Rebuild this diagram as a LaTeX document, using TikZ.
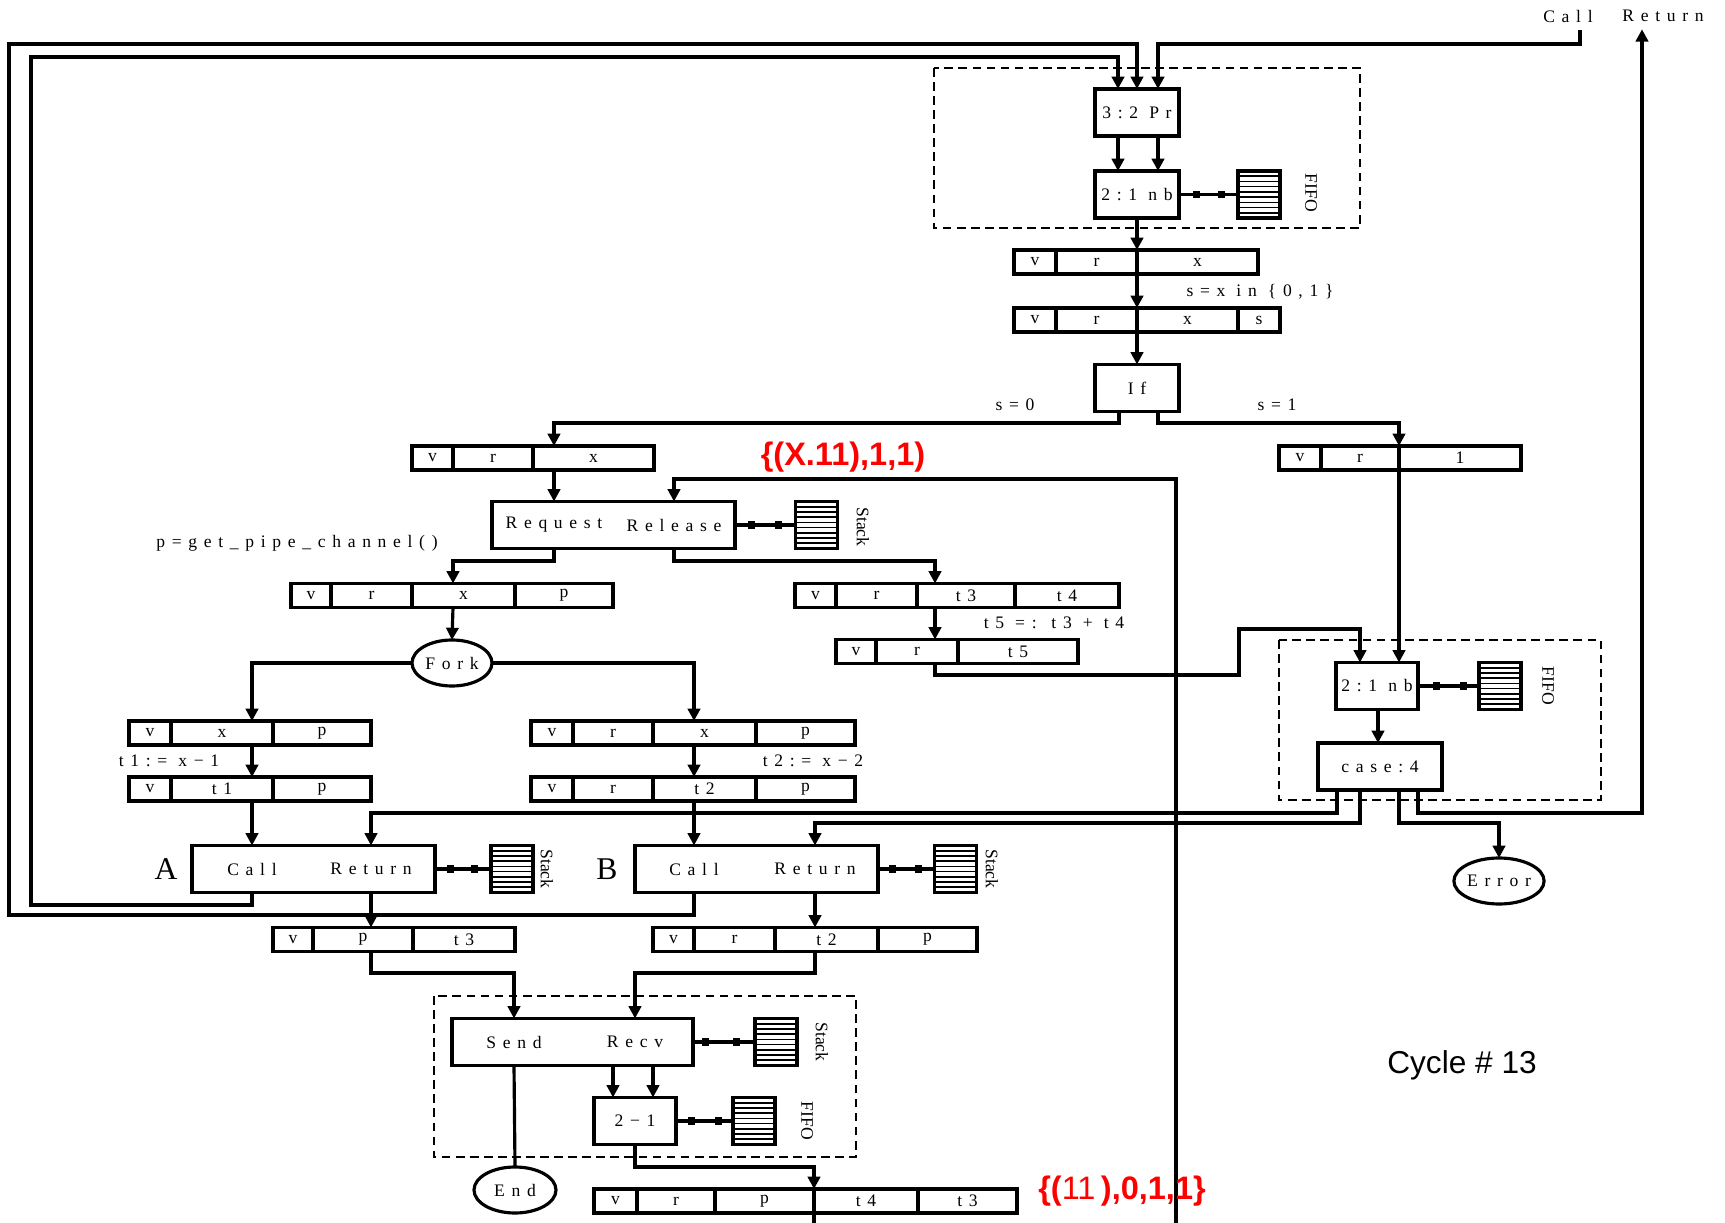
\documentclass[tikz,border=0pt]{standalone}
\usepackage{fontspec}
\setmainfont{Liberation Serif}[LetterSpace=38]
\newfontfamily\plainrm{Liberation Serif}
\newfontfamily\arialf{Liberation Sans}
\usetikzlibrary{arrows.meta,shapes.geometric}
\begin{document}
\begin{tikzpicture}[x=.2mm,y=-.2mm,line width=1.8pt,font=\fontsize{10}{11}\selectfont,
  arr/.style={-{Triangle[width=7pt,length=7pt]}},
  box/.style={draw,minimum height=9.4mm,inner sep=0,outer sep=0},
  fld/.style={draw,minimum height=4.8mm,inner sep=0,outer sep=0},
  ell/.style={draw,ellipse,minimum width=16mm,minimum height=9.2mm,inner sep=0,outer sep=0},
  stk/.style={draw,minimum width=8.4mm,minimum height=9.4mm,inner sep=0,outer sep=0,
    path picture={\foreach \k in {1,...,8}\draw[line width=.9pt] ([yshift={-\k*1.044mm}]path picture bounding box.north west)--([yshift={-\k*1.044mm}]path picture bounding box.north east);}},
  sq/.style={fill,inner sep=0,minimum size=4pt},
  vlab/.style={font=\plainrm\fontsize{10}{11}\selectfont,rotate=-90},
  dbox/.style={line width=1.3pt,dash pattern=on 5pt off 3pt},
  redlbl/.style={text=red,font=\arialf\bfseries\fontsize{18.5}{20}\selectfont}]
\useasboundingbox (0,0) rectangle (1725,1223);
\node (callt) at (1568,16) {Call};\node (rett) at (1663,16) {Return};
\node[box,minimum width=16.8mm] (pr) at (1137,112.5) {3:2 Pr};
\node[box,minimum width=16.8mm] (nb1) at (1137,194.5) {2:1 nb};
\node[stk] (fifo1) at (1259,194.5) {};\node[vlab] (ff1) at (1311,193) {FIFO};
\draw[dbox] (934,68) rectangle (1360,228);
\draw[arr] (1580,0|-callt.south) |- (1158,44) -- (1158,0|-pr.north);
\draw[arr] (694,892) |- (9,915) |- (1137,44) -- (1137,0|-pr.north);
\draw[arr] (252,892) |- (31,905) |- (1118,57) -- (1118,0|-pr.north);
\draw[arr] (1118,0|-pr.south) -- (1118,0|-nb1.north);\draw[arr] (1158,0|-pr.south) -- (1158,0|-nb1.north);
\draw (nb1.east) -- node[sq,pos=.3]{} node[sq,pos=.72]{} (fifo1.west);
\foreach \a/\b/\tx [count=\i] in {1014/1056/v,1056/1137/r,1137/1258/x} \node[fld,minimum width={(\b-\a)*.2mm}] (ra\i) at ({(\a+\b)/2},262) {\tx};
\foreach \a/\b/\tx [count=\i] in {1014/1056/v,1056/1137/r,1137/1238/x,1238/1280/s} \node[fld,minimum width={(\b-\a)*.2mm}] (rb\i) at ({(\a+\b)/2},320) {\tx};
\node (sxl) at (1260,292) {s=x in \{0,1\}};
\node[box,minimum width=16.8mm] (ifb) at (1137,388) {If};
\draw[arr] (nb1.south) -- (ra3.north west);\draw[arr] (ra3.south west) -- (rb3.north west);\draw[arr] (rb3.south west) -- (ifb.north);
\node (s0) at (1015,405) {s=0};\node (s1) at (1277,405) {s=1};
\foreach \a/\b/\tx [count=\i] in {412/453/v,453/533/r,533/654/x} \node[fld,minimum width={(\b-\a)*.2mm}] (rc\i) at ({(\a+\b)/2},458) {\tx};
\foreach \a/\b/\tx [count=\i] in {1279/1321/v,1321/1399/r,1399/1521/1} \node[fld,minimum width={(\b-\a)*.2mm}] (rn\i) at ({(\a+\b)/2},458) {\tx};
\draw[arr] (1119,0|-ifb.south) |- (554,423) -- (554,0|-rc1.north);
\draw[arr] (1158,0|-ifb.south) |- (1399,423) -- (rn3.north west);
\node[redlbl] (st1) at (843,457) {\{(X.11),1,1)};
\node[box,minimum width=48.6mm] (rr) at (613.5,525) {};
\node (rqt) at (554,525) {Request};\node (rlt) at (674,525) {Release};
\node[stk] (stk1) at (816.5,525) {};\node[vlab] (sl1) at (863,527) {Stack};
\draw (rr.east) -- node[sq,pos=.28]{} node[sq,pos=.72]{} (stk1.west);
\draw[arr] (554,0|-rc1.south) -- (554,0|-rr.north);
\coordinate (lbot) at (1176,1223);\draw[arr] (lbot) |- (674,479) -- (674,0|-rr.north);
\node (pgc) at (297,543) {p=get\_pipe\_channel()};
\foreach \a/\b/\tx [count=\i] in {291/331/v,331/412/r,412/515/x,515/613/p} \node[fld,minimum width={(\b-\a)*.2mm}] (rd\i) at ({(\a+\b)/2},595.5) {\tx};
\draw[arr] (554,0|-rr.south) |- (453,561) -- (453,0|-rd1.north);
\node[ell] (fork) at (452,663) {Fork};\draw[arr] (453,0|-rd1.south) -- (fork.north);
\foreach \a/\b/\tx [count=\i] in {795/836/v,836/917/r,917/1015/t3,1015/1119/t4} \node[fld,minimum width={(\b-\a)*.2mm}] (rk\i) at ({(\a+\b)/2},595.5) {\tx};
\draw[arr] (674,0|-rr.south) |- (935,561) -- (935,0|-rk1.north);
\node (t5l) at (1054,623) {t5 =: t3 + t4};
\foreach \a/\b/\tx [count=\i] in {836/876/v,876/958/r,958/1078/t5} \node[fld,minimum width={(\b-\a)*.2mm}] (rl\i) at ({(\a+\b)/2},651.5) {\tx};
\draw[arr] (935,0|-rk1.south) -- (935,0|-rl1.north);
\node[box,minimum width=16.4mm] (nb2) at (1377,686) {2:1 nb};
\node[stk] (fifo2) at (1500,686) {};\node[vlab] (ff2) at (1548,686) {FIFO};
\draw (nb2.east) -- node[sq,pos=.31]{} node[sq,pos=.75]{} (fifo2.west);
\node[box,minimum width=24.8mm] (cs4) at (1380,766.5) {case:4};
\draw[dbox] (1279,640) rectangle (1601,800);
\draw[arr] (935,0|-rl1.south) |- (1239,675) |- (1360,629) -- (1360,0|-nb2.north);
\draw[arr] (rn3.south west) -- (1399,0|-nb2.north);
\draw[arr] (1378,0|-nb2.south) -- (1378,0|-cs4.north);
\node[ell] (err) at (1499,881) {Error};
\foreach \a/\b/\tx [count=\i] in {129/171/v,171/273/x,273/371/p} \node[fld,minimum width={(\b-\a)*.2mm}] (re\i) at ({(\a+\b)/2},733) {\tx};
\foreach \a/\b/\tx [count=\i] in {129/171/v,171/273/t1,273/371/p} \node[fld,minimum width={(\b-\a)*.2mm}] (rf\i) at ({(\a+\b)/2},789) {\tx};
\foreach \a/\b/\tx [count=\i] in {531/573/v,573/653/r,653/756/x,756/855/p} \node[fld,minimum width={(\b-\a)*.2mm}] (rg\i) at ({(\a+\b)/2},733) {\tx};
\foreach \a/\b/\tx [count=\i] in {531/573/v,573/653/r,653/756/t2,756/855/p} \node[fld,minimum width={(\b-\a)*.2mm}] (ri\i) at ({(\a+\b)/2},789) {\tx};
\node (t1l) at (169,761) {t1:= x−1};\node (t2l) at (813,761) {t2:= x−2};
\draw[arr] (fork.west) -| (252,0|-re1.north);\draw[arr] (fork.east) -| (694,0|-rg1.north);
\draw[arr] (252,0|-re1.south) -- (252,0|-rf1.north);\draw[arr] (694,0|-rg1.south) -- (694,0|-ri1.north);
\node[box,minimum width=48.6mm] (boxa) at (313.5,869) {};
\node (acall) at (252,869) {Call};\node (aret) at (371,869) {Return};
\node[font=\fontsize{18}{19}\selectfont] (alab) at (166,869) {A};
\node[stk] (stka) at (512,869) {};\node[vlab] (sla) at (547,869) {Stack};
\draw (boxa.east) -- node[sq,pos=.27]{} node[sq,pos=.71]{} (stka.west);
\node[box,minimum width=48.6mm] (boxb) at (756.5,869) {};
\node (bcall) at (694,869) {Call};\node (bret) at (815,869) {Return};
\node[font=\fontsize{18}{19}\selectfont] (blab) at (607,869) {B};
\node[stk] (stkb) at (955.5,869) {};\node[vlab] (slb) at (992,869) {Stack};
\draw (boxb.east) -- node[sq,pos=.26]{} node[sq,pos=.72]{} (stkb.west);
\draw[arr] (252,0|-rf1.south) -- (252,0|-boxa.north);\draw[arr] (694,0|-ri1.south) -- (694,0|-boxb.north);
\draw[arr] (1337,0|-cs4.south) |- (371,813) -- (371,0|-boxa.north);
\draw[arr] (1360,0|-cs4.south) |- (815,823) -- (815,0|-boxb.north);
\draw[arr] (1399,0|-cs4.south) |- (1499,823) -- (err.north);
\draw[arr] (1418,0|-cs4.south) |- (1642,813) -- (1642,0|-rett.south);
\foreach \a/\b/\tx [count=\i] in {273/313/v,313/413/p,413/515/t3} \node[fld,minimum width={(\b-\a)*.2mm}] (rh\i) at ({(\a+\b)/2},939.5) {\tx};
\foreach \a/\b/\tx [count=\i] in {653/694/v,694/775/r,775/878/t2,878/977/p} \node[fld,minimum width={(\b-\a)*.2mm}] (rj\i) at ({(\a+\b)/2},939.5) {\tx};
\draw[arr] (371,0|-boxa.south) -- (371,0|-rh1.north);\draw[arr] (815,0|-boxb.south) -- (815,0|-rj1.north);
\node[box,minimum width=48.2mm] (sr) at (572.5,1042) {};
\node (sendt) at (514,1042) {Send};\node (recvt) at (635,1042) {Recv};
\node[stk] (stks) at (776,1042) {};\node[vlab] (sls) at (822,1042) {Stack};
\draw (sr.east) -- node[sq,pos=.2]{} node[sq,pos=.7]{} (stks.west);
\draw[arr] (371,0|-rh1.south) |- (514,973) -- (514,0|-sr.north);
\draw[arr] (815,0|-rj1.south) |- (635,973) -- (635,0|-sr.north);
\node[box,minimum width=16.4mm] (m21) at (635,1121) {2−1};
\node[stk] (fifo3) at (754,1121) {};\node[vlab] (ff3) at (807,1121) {FIFO};
\draw (m21.east) -- node[sq,pos=.28]{} node[sq,pos=.74]{} (fifo3.west);
\draw[arr] (613,0|-sr.south) -- (613,0|-m21.north);\draw[arr] (653,0|-sr.south) -- (653,0|-m21.north);
\draw[dbox] (434,996) rectangle (856,1157);
\node[ell,minimum width=16.4mm] (endn) at (515,1190) {End};\draw (514,0|-sr.south) -- (endn.north);
\foreach \a/\b/\tx [count=\i] in {594/637/v,637/715/r,715/814/p,814/918/t4,918/1017/t3} \node[fld,minimum width={(\b-\a)*.2mm}] (rm\i) at ({(\a+\b)/2},1201) {\tx};
\draw[arr] (m21.south) |- (814,1167) -- (rm4.north west);
\coordinate (bbot) at (814,1223);\draw (rm4.south west) -- (bbot);
\node[redlbl] (st2) at (1122,1191) {\{({\mdseries 11}\,),0,1,1\}};
\node[font=\arialf\fontsize{18}{20}\selectfont] (cyc) at (1462,1065) {Cycle \# 13};
\end{tikzpicture}
\end{document}
